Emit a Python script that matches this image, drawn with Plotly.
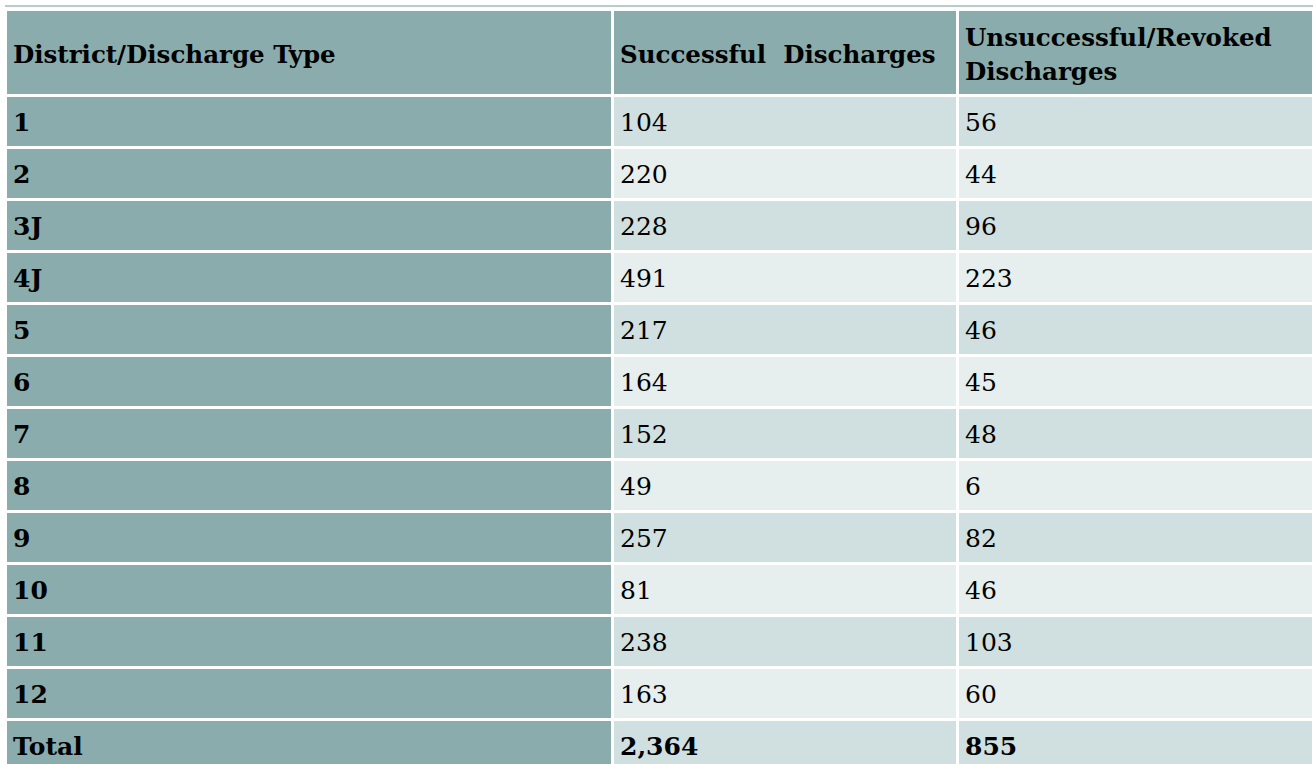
import plotly.graph_objects as go

# ---- data ----
districts = ["1", "2", "3J", "4J", "5", "6", "7", "8", "9", "10", "11", "12"]
successful = [104, 220, 228, 491, 217, 164, 152, 49, 257, 81, 238, 163]
unsuccessful = [56, 44, 96, 223, 46, 45, 48, 6, 82, 46, 103, 60]
total_label = "Total"
header_labels = ["District/Discharge Type", "Successful  Discharges",
                 "Unsuccessful/Revoked<br>Discharges"]

# ---- style ----
DARK = "#8aacad"
MID = "#d0dfdf"
LIGHT = "#e6eeee"
FONT = "DejaVu Serif"
HDR_SIZE = 24.5
CELL_SIZE = 25
ASC = 0.928  # font ascent ratio used for the (top-aligned) table text box


def spacer(ascent_px):
    """Invisible spacer that sets the first line's ascent, which pushes the
    top-aligned table text down so it sits centred like the original."""
    return '<span style="font-size:%.1fpx;fill-opacity:0">\u00a0</span>' % (ascent_px / ASC)


def nb(s):
    return s.replace(" ", "\u00a0")


total_s = sum(successful)
total_u = sum(unsuccessful)

col1 = ["<b>%s</b>" % d for d in districts] + ["<b>%s</b>" % total_label]
col2 = ["{:,}".format(v) for v in successful] + ["<b>{:,}</b>".format(total_s)]
col3 = ["{:,}".format(v) for v in unsuccessful] + ["<b>{:,}</b>".format(total_u)]
cells_vals = [[t + spacer(27.7) + "<br>" for t in col] for col in (col1, col2, col3)]

# header texts
HDR3_FONT = 26.5
hdr = []
for h in header_labels:
    lines = h.split("<br>")
    if len(lines) == 1:
        hdr.append("<b>%s</b>" % nb(h) + spacer(45.6) + "<br>")
    else:
        parts = ['<span style="font-size:%.1fpx"><b>%s</b></span>' % (HDR_SIZE, nb(l)) for l in lines]
        parts[0] = parts[0] + spacer(28.6)
        hdr.append("<br>".join(parts))

n_rows = len(col1)
body_fill = [MID if i % 2 == 0 else LIGHT for i in range(n_rows)]

fig = go.Figure(go.Table(
    columnwidth=[607, 345, 356],
    header=dict(
        values=hdr,
        fill_color=DARK,
        line=dict(color="white", width=3),
        align="left",
        font=dict(family=FONT, size=[HDR_SIZE, HDR_SIZE, HDR3_FONT], color="black"),
        height=86,
    ),
    cells=dict(
        values=cells_vals,
        fill_color=[[DARK] * n_rows, body_fill, body_fill],
        line=dict(color="white", width=3),
        align="left",
        font=dict(family=FONT, size=CELL_SIZE, color="black"),
        height=52,
    ),
))

fig.add_shape(type="line", xref="paper", yref="paper", x0=0, x1=1.01,
              y0=1.004, y1=1.004, line=dict(color="#9dbcbd", width=1.5))

fig.update_layout(
    width=1313, height=764,
    margin=dict(l=5, r=0, t=9, b=0),
    paper_bgcolor="white",
)

fig.write_html("out.html", config={"displayModeBar": False},
               post_script="document.body.style.margin='0';")
